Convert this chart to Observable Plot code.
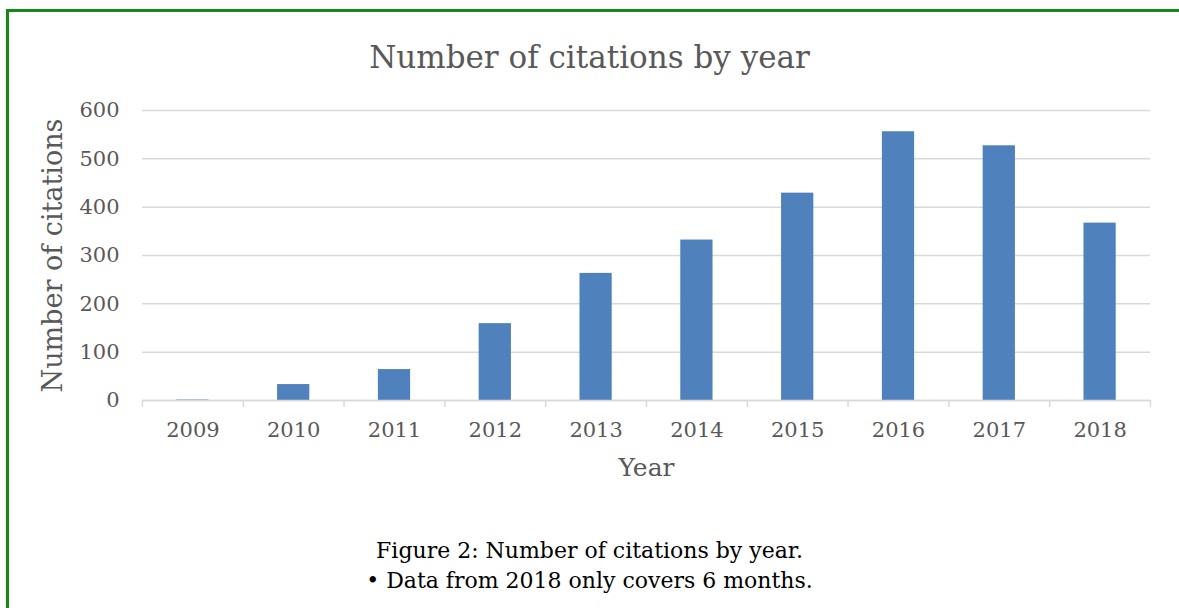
<!DOCTYPE html>
<html>
<head>
<meta charset="utf-8">
<script src="https://cdn.jsdelivr.net/npm/d3@7"></script>
<script src="https://cdn.jsdelivr.net/npm/@observablehq/plot@0.6"></script>
<style>
  html, body { margin: 0; padding: 0; background: #fff; }
  body { width: 1179px; height: 608px; overflow: hidden; position: relative; font-family: "DejaVu Serif", serif; }
  #frame { position: absolute; left: 6px; top: 9px; width: 1200px; height: 700px; border: 3px solid #138a13; box-sizing: border-box; }
  #title { position: absolute; left: 0; top: 36px; width: 1179px; text-align: center; font-size: 31px; line-height: 42px; color: #595959; }
  #chart { position: absolute; left: 0; top: 90px; }
  #caption { position: absolute; left: 0; top: 536px; width: 1179px; text-align: center; font-size: 22px; line-height: 30px; color: #000; }
</style>
</head>
<body>
<div id="frame"></div>
<div id="title">Number of citations by year</div>
<div id="chart"></div>
<div id="caption">Figure 2: Number of citations by year.<br>• Data from 2018 only covers 6 months.</div>
<script>
const years = ["2009", "2010", "2011", "2012", "2013", "2014", "2015", "2016", "2017", "2018"];
const citations = [1, 33, 64, 159, 263, 332, 429, 556, 527, 367];
const yTicks = [0, 100, 200, 300, 400, 500, 600];

const data = years.map((year, i) => ({year, value: citations[i]}));

const W = 1179, H = 400, ML = 142, MR = 29, MT = 20, MB = 90;
const step = (W - ML - MR) / years.length;
const grey = "#d9d9d9";
const textGrey = "#595959";

const chart = Plot.plot({
  width: W,
  height: H,
  marginLeft: ML,
  marginRight: MR,
  marginTop: MT,
  marginBottom: MB,
  style: {fontFamily: "DejaVu Serif", fontSize: "21px", color: textGrey, background: "transparent"},
  x: {domain: years, paddingInner: 0.68, paddingOuter: 0.34, round: false},
  y: {domain: [0, 600]},
  marks: [
    Plot.gridY(yTicks, {stroke: grey, strokeOpacity: 1, strokeWidth: 1.5}),
    Plot.axisY(yTicks, {tickSize: 0, tickPadding: 23, label: null, fill: textGrey}),
    Plot.barY(data, {x: "year", y: "value", fill: "#4f81bd"}),
    Plot.ruleY([0], {stroke: grey, strokeWidth: 1.5}),
    Plot.axisX({tickSize: 0, tickPadding: 22, label: null, fill: textGrey}),
    Plot.axisX(years, {tickSize: 7, tickFormat: () => "", label: null, dx: -step / 2, stroke: grey, strokeWidth: 1.5}),
    Plot.axisX([years[years.length - 1]], {tickSize: 7, tickFormat: () => "", label: null, dx: step / 2, stroke: grey, strokeWidth: 1.5}),
    Plot.text(["Number of citations"], {text: d => d, frameAnchor: "left", textAnchor: "middle", rotate: -90, dx: -89, fontSize: 27, fill: textGrey}),
    Plot.text(["Year"], {text: d => d, frameAnchor: "bottom", dy: 75, fontSize: 25, fill: textGrey})
  ]
});
document.getElementById("chart").appendChild(chart);
</script>
</body>
</html>
